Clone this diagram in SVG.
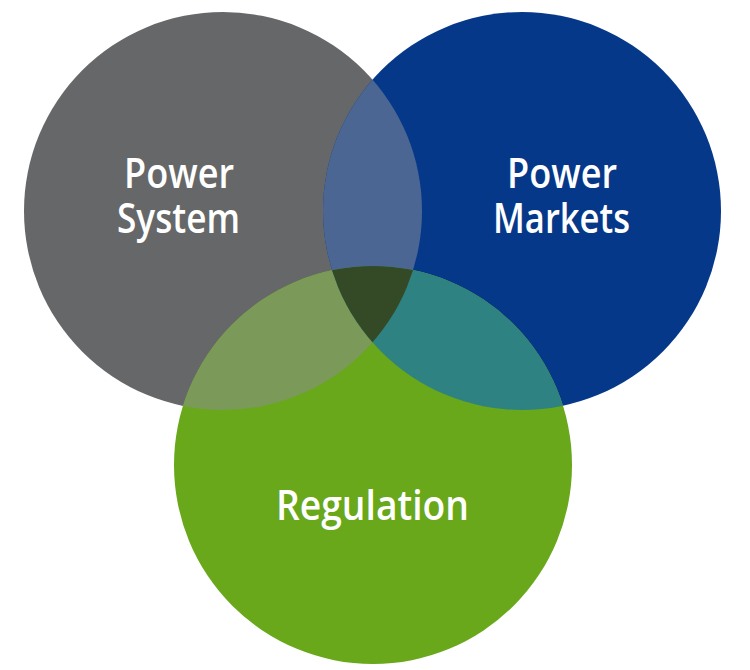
<svg xmlns="http://www.w3.org/2000/svg" width="750" height="670" viewBox="0 0 750 670">
  <style>
    .lbl { font-family: "Open Sans", "Noto Sans", "Liberation Sans", sans-serif; font-size: 41px; font-weight: 600; fill: #ffffff; }
  </style>
  <defs>
    <clipPath id="clipGray"><circle cx="223" cy="211" r="199"/></clipPath>
    <clipPath id="clipBlue"><circle cx="522" cy="211" r="199"/></clipPath>
  </defs>
  <rect width="750" height="670" fill="#ffffff"/>
  <g id="power-system">
    <circle cx="223" cy="211" r="199" fill="#666769"/>
  </g>
  <g id="power-markets">
    <circle cx="522" cy="211" r="199" fill="#06388a"/>
  </g>
  <g id="regulation">
    <circle cx="373" cy="465" r="199" fill="#68a81a"/>
  </g>
  <g id="overlaps">
    <circle cx="522" cy="211" r="199" fill="#4b6692" clip-path="url(#clipGray)"/>
    <circle cx="373" cy="465" r="199" fill="#7b9a5a" clip-path="url(#clipGray)"/>
    <circle cx="373" cy="465" r="199" fill="#2f8282" clip-path="url(#clipBlue)"/>
    <g clip-path="url(#clipGray)">
      <circle cx="373" cy="465" r="199" fill="#344a26" clip-path="url(#clipBlue)"/>
    </g>
  </g>
  <g id="labels">
    <text class="lbl" x="124" y="188" textLength="110" lengthAdjust="spacingAndGlyphs">Power</text>
    <text class="lbl" x="117" y="233" textLength="123" lengthAdjust="spacingAndGlyphs">System</text>
    <text class="lbl" x="507" y="188" textLength="110" lengthAdjust="spacingAndGlyphs">Power</text>
    <text class="lbl" x="493" y="233" textLength="137" lengthAdjust="spacingAndGlyphs">Markets</text>
    <text class="lbl" x="276" y="520" textLength="193" lengthAdjust="spacingAndGlyphs">Regulation</text>
  </g>
</svg>
